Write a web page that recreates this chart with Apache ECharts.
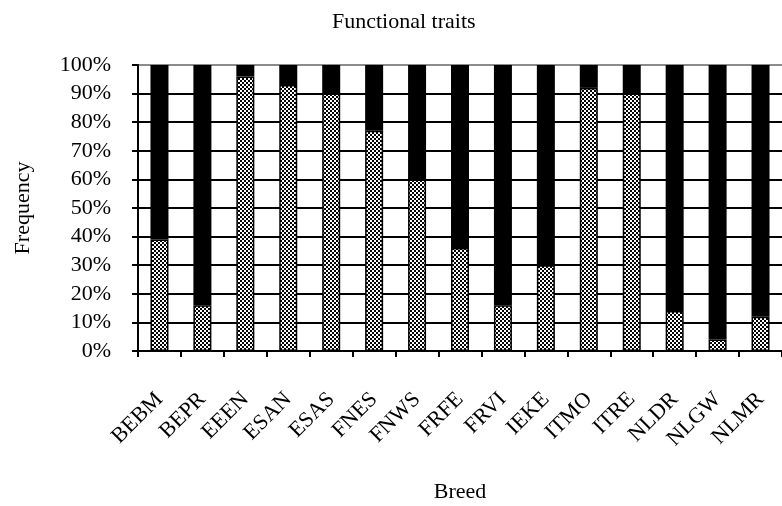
<!DOCTYPE html>
<html>
<head>
    <meta charset="utf-8">
    <title>Functional traits</title>
    <script src="https://cdn.jsdelivr.net/npm/echarts@6/dist/echarts.min.js"></script>
    <style>
        html, body { margin: 0; padding: 0; background: #fff; }
    </style>
</head>
<body>
    <div id="chart" style="width: 782px; height: 506px;"></div>
    <script type="text/javascript">
        // breeds along the x axis
        var breeds = ['BEBM', 'BEPR', 'EEEN', 'ESAN', 'ESAS', 'FNES', 'FNWS', 'FRFE',
                      'FRVI', 'IEKE', 'ITMO', 'ITRE', 'NLDR', 'NLGW', 'NLMR'];
        // share (%) of the checkered part
        var lowerShare = [39, 16, 96, 93, 90, 77, 60, 36, 16, 30, 92, 90, 14, 4, 12];
        // the black part fills each bar up to 100%
        var upperShare = [61, 84, 4, 7, 10, 23, 40, 64, 84, 70, 8, 10, 86, 96, 88];

        var font = "'Liberation Serif', 'Times New Roman', serif";

        // small black/white checker tile for the lower bars
        function checker() {
            var c = document.createElement('canvas');
            c.width = 4;
            c.height = 4;
            var ctx = c.getContext('2d');
            ctx.fillStyle = '#fff';
            ctx.fillRect(0, 0, 4, 4);
            ctx.fillStyle = '#000';
            ctx.fillRect(0, 0, 2, 2);
            ctx.fillRect(2, 2, 2, 2);
            return c;
        }

        var gridColors = [];
        for (var i = 0; i < 10; i++) gridColors.push('#000');
        gridColors.push('#8c8c8c');

        var myChart = echarts.init(document.getElementById('chart'));
        var option = {
            animation: false,
            backgroundColor: '#fff',
            title: {
                text: 'Functional traits',
                left: 327,
                top: 6,
                textStyle: { fontFamily: font, fontSize: 22, fontWeight: 'normal', color: '#000' }
            },
            grid: { left: 138, right: 0, top: 65, bottom: 155, outerBoundsMode: 'none' },
            xAxis: {
                type: 'category',
                data: breeds,
                name: 'Breed',
                nameLocation: 'middle',
                nameGap: 130,
                nameTextStyle: { fontFamily: font, fontSize: 22, color: '#000' },
                axisLine: { lineStyle: { color: '#000', width: 2 } },
                axisTick: { show: true, length: 6, lineStyle: { color: '#000', width: 2 } },
                axisLabel: {
                    rotate: 45,
                    margin: 45,
                    interval: 0,
                    fontFamily: font,
                    fontSize: 22,
                    color: '#000'
                }
            },
            yAxis: {
                type: 'value',
                min: 0,
                max: 100,
                interval: 10,
                name: 'Frequency',
                nameLocation: 'middle',
                nameGap: 104,
                nameRotate: 90,
                nameTextStyle: { fontFamily: font, fontSize: 22, color: '#000' },
                axisLine: { show: true, lineStyle: { color: '#000', width: 2 } },
                axisTick: { show: true, length: 6, lineStyle: { color: '#000', width: 2 } },
                axisLabel: {
                    margin: 27,
                    formatter: '{value}%',
                    fontFamily: font,
                    fontSize: 22,
                    color: '#000'
                },
                splitLine: { show: true, lineStyle: { color: gridColors, width: 2 } }
            },
            series: [
                {
                    name: 'lower',
                    type: 'bar',
                    stack: 'share',
                    barWidth: 18,
                    data: lowerShare,
                    itemStyle: {
                        color: { image: checker(), repeat: 'repeat' },
                        borderColor: '#000',
                        borderWidth: 1.5
                    }
                },
                {
                    name: 'upper',
                    type: 'bar',
                    stack: 'share',
                    barWidth: 18,
                    data: upperShare,
                    itemStyle: { color: '#000' }
                }
            ]
        };
        myChart.setOption(option);
    </script>
</body>
</html>
